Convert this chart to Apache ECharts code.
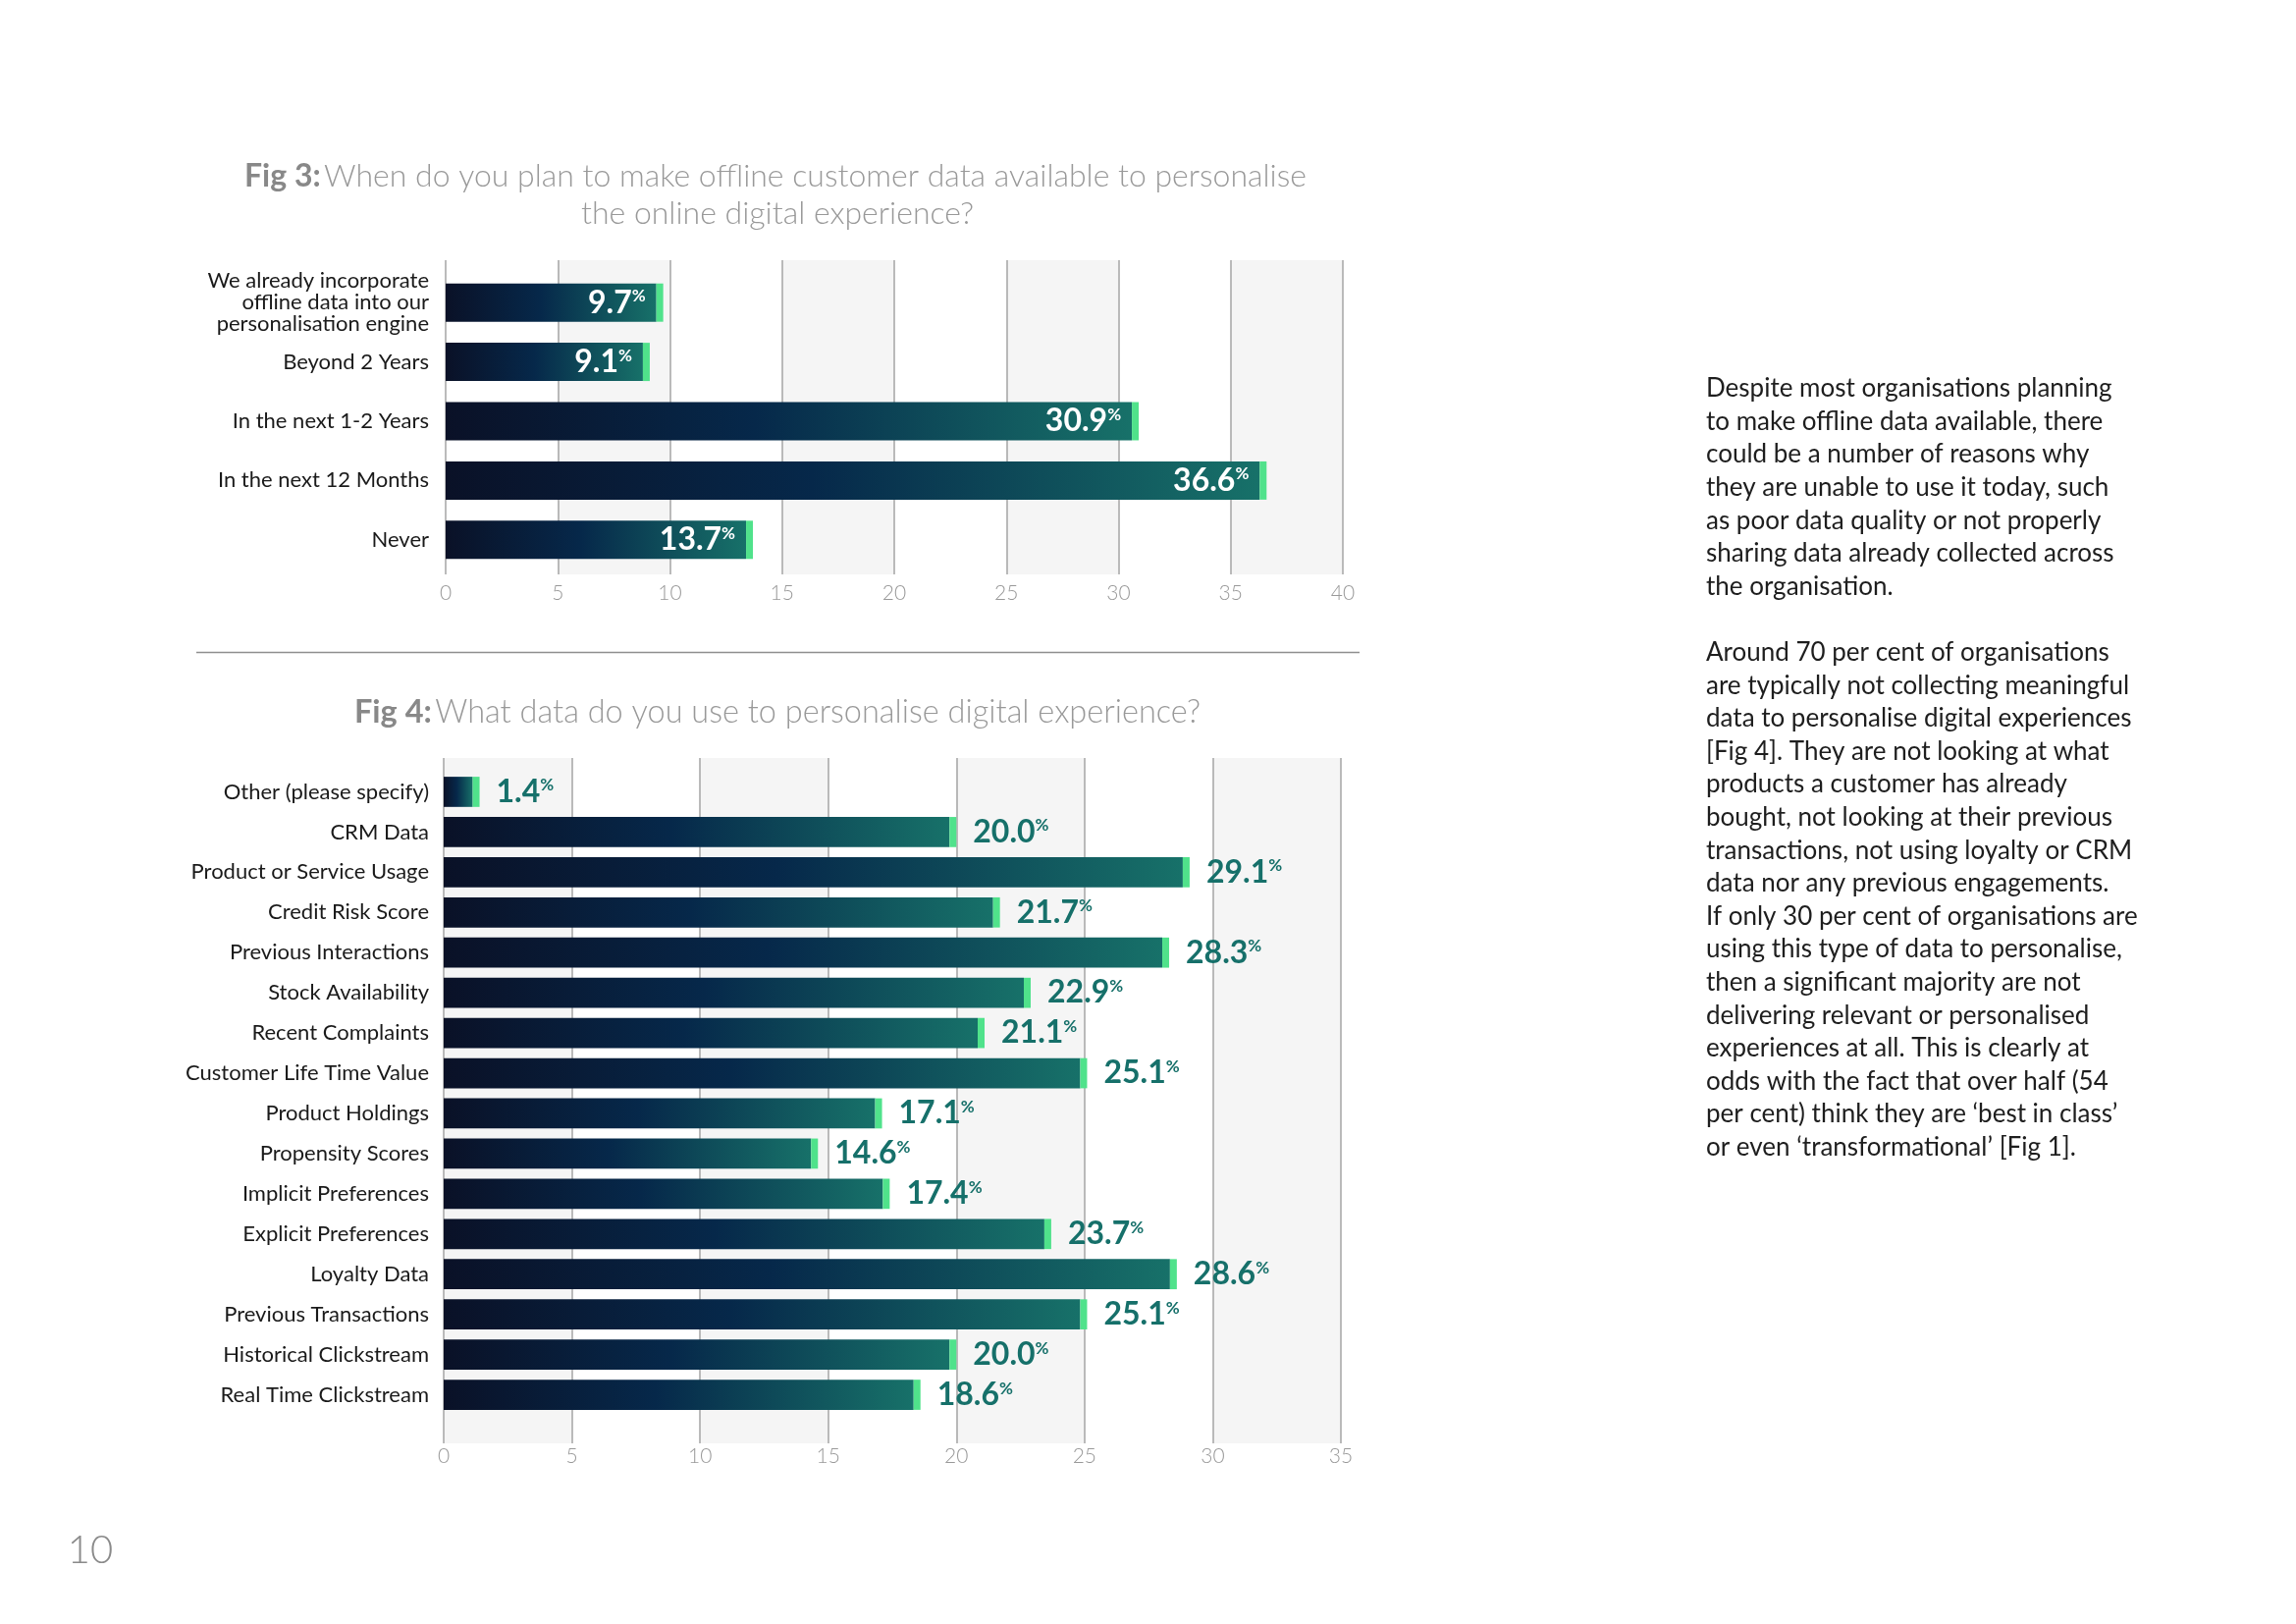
<!DOCTYPE html>
<html>
<head>
<meta charset="utf-8">
<script src="https://cdn.jsdelivr.net/npm/echarts@6/dist/echarts.min.js"></script>
<style>
html,body{margin:0;padding:0;background:#ffffff;}
#chart{width:2339px;height:1654px;}
</style>
</head>
<body>
<div id="chart"></div>
<script>
const fig3Categories = ['We already incorporate\noffline data into our\npersonalisation engine', 'Beyond 2 Years', 'In the next 1-2 Years', 'In the next 12 Months', 'Never'];
const fig3Values = [9.7, 9.1, 30.9, 36.6, 13.7];
const fig3AxisMax = 40;

const fig4Categories = ['Other (please specify)', 'CRM Data', 'Product or Service Usage', 'Credit Risk Score', 'Previous Interactions', 'Stock Availability', 'Recent Complaints', 'Customer Life Time Value', 'Product Holdings', 'Propensity Scores', 'Implicit Preferences', 'Explicit Preferences', 'Loyalty Data', 'Previous Transactions', 'Historical Clickstream', 'Real Time Clickstream'];
const fig4Values = [1.4, 20.0, 29.1, 21.7, 28.3, 22.9, 21.1, 25.1, 17.1, 14.6, 17.4, 23.7, 28.6, 25.1, 20.0, 18.6];
const fig4AxisMax = 35;
const axisStep = 5;

const fig3Title1 = 'When do you plan to make offline customer data available to personalise';
const fig3Title2 = 'the online digital experience?';
const fig4Title = 'What data do you use to personalise digital experience?';

const bodyText = [
  'Despite most organisations planning',
  'to make offline data available, there',
  'could be a number of reasons why',
  'they are unable to use it today, such',
  'as poor data quality or not properly',
  'sharing data already collected across',
  'the organisation.',
  '',
  'Around 70 per cent of organisations',
  'are typically not collecting meaningful',
  'data to personalise digital experiences',
  '[Fig 4]. They are not looking at what',
  'products a customer has already',
  'bought, not looking at their previous',
  'transactions, not using loyalty or CRM',
  'data nor any previous engagements.',
  'If only 30 per cent of organisations are',
  'using this type of data to personalise,',
  'then a significant majority are not',
  'delivering relevant or personalised',
  'experiences at all. This is clearly at',
  'odds with the fact that over half (54',
  'per cent) think they are \u2018best in class\u2019',
  'or even \u2018transformational\u2019 [Fig 1].'
];
const pageNumber = '10';

const FONT = 'Lato, "Noto Sans", sans-serif';
const CAP = 7;
const CAP_COLOR = '#50e28b';
const TEAL = '#16706a';

function barGradient() {
  return new echarts.graphic.LinearGradient(0, 0, 1, 0, [
    {offset: 0, color: '#0a1127'},
    {offset: 0.45, color: '#06284a'},
    {offset: 1, color: '#177169'}
  ]);
}

function makeRender(ratio, inside) {
  return function (params, api) {
    const v = api.value(0);
    const idx = api.value(1);
    const s = api.coord([0, idx]);
    const e = api.coord([v, idx]);
    const band = api.size([0, 1])[1];
    const h = band * ratio;
    const y0 = s[1] - h / 2;
    const w = e[0] - s[0];
    const txt = '{n|' + v.toFixed(1) + '}{p|%}';
    const col = inside ? '#ffffff' : TEAL;
    const children = [
      {type: 'rect', shape: {x: s[0], y: y0, width: Math.max(w - CAP, 0), height: h}, style: {fill: barGradient()}},
      {type: 'rect', shape: {x: e[0] - CAP, y: y0, width: CAP, height: h}, style: {fill: CAP_COLOR}}
    ];
    const rich = {
      n: {fontFamily: FONT, fontWeight: 'bold', fontSize: 32, fill: col, lineHeight: 30},
      p: {fontFamily: FONT, fontWeight: 'bold', fontSize: 17, fill: col, verticalAlign: 'top', lineHeight: 19}
    };
    children.push({
      type: 'text',
      style: {
        text: txt,
        rich: rich,
        fill: col,
        x: inside ? e[0] - CAP - 11 : e[0] + 17,
        y: s[1],
        align: inside ? 'right' : 'left',
        verticalAlign: 'middle'
      }
    });
    return {type: 'group', children: children};
  };
}

const W = 2339, H = 1654;
const g3 = {left: 454, right: W - 1368};
const g4 = {left: 452, right: W - 1366};

const splitLine = {show: true, lineStyle: {color: '#a5a5a5', width: 1.5}};
const axisLabelStyle = {color: '#999999', fontSize: 21, fontFamily: FONT, fontWeight: 300};

const option = {
  backgroundColor: '#ffffff',
  animation: false,
  grid: [
    {left: g3.left, right: g3.right, top: 265, bottom: H - 585},
    {left: g3.left, right: g3.right, top: 278, height: 302},
    {left: g4.left, right: g4.right, top: 772, bottom: H - 1470},
    {left: g4.left, right: g4.right, top: 786, height: 655}
  ],
  xAxis: [
    {gridIndex: 0, type: 'value', min: 0, max: fig3AxisMax, interval: axisStep,
      axisLine: {show: false}, axisTick: {show: false},
      axisLabel: Object.assign({margin: 9}, axisLabelStyle),
      splitLine: splitLine,
      splitArea: {show: true, areaStyle: {color: ['rgba(255,255,255,0)', '#f5f5f5']}}},
    {gridIndex: 1, type: 'value', min: 0, max: fig3AxisMax, show: false, splitLine: {show: false}},
    {gridIndex: 2, type: 'value', min: 0, max: fig4AxisMax, interval: axisStep,
      axisLine: {show: false}, axisTick: {show: false},
      axisLabel: Object.assign({margin: 3}, axisLabelStyle),
      splitLine: splitLine,
      splitArea: {show: true, areaStyle: {color: ['#f5f5f5', 'rgba(255,255,255,0)']}}},
    {gridIndex: 3, type: 'value', min: 0, max: fig4AxisMax, show: false, splitLine: {show: false}}
  ],
  yAxis: [
    {gridIndex: 0, type: 'value', show: false, splitLine: {show: false}},
    {gridIndex: 1, type: 'category', inverse: true, data: fig3Categories,
      axisLine: {show: false}, axisTick: {show: false},
      axisLabel: {color: '#1a1a1a', fontSize: 22, fontFamily: FONT, margin: 17, lineHeight: 22, align: 'right'}},
    {gridIndex: 2, type: 'value', show: false, splitLine: {show: false}},
    {gridIndex: 3, type: 'category', inverse: true, data: fig4Categories,
      axisLine: {show: false}, axisTick: {show: false},
      axisLabel: {color: '#1a1a1a', fontSize: 22, fontFamily: FONT, margin: 15, align: 'right'}}
  ],
  series: [
    {type: 'custom', xAxisIndex: 1, yAxisIndex: 1, renderItem: makeRender(0.645, true),
      encode: {x: 0, y: 1}, data: fig3Values.map((v, i) => [v, i])},
    {type: 'custom', xAxisIndex: 3, yAxisIndex: 3, renderItem: makeRender(0.75, false),
      encode: {x: 0, y: 1}, data: fig4Values.map((v, i) => [v, i])}
  ],
  graphic: [
    {type: 'text', x: 790, y: 180, style: {
      text: '{b|Fig 3:} {r|' + fig3Title1 + '}', align: 'center', verticalAlign: 'middle',
      rich: {b: {fontFamily: FONT, fontWeight: 'bold', fontSize: 32, fill: '#888888'},
             r: {fontFamily: FONT, fontWeight: 300, fontSize: 32, fill: '#999999'}}}},
    {type: 'text', x: 792, y: 218, style: {
      text: fig3Title2, align: 'center', verticalAlign: 'middle',
      fontFamily: FONT, fontWeight: 300, fontSize: 32, fill: '#999999'}},
    {type: 'line', shape: {x1: 200, y1: 664.5, x2: 1385, y2: 664.5}, style: {stroke: '#8f8f8f', lineWidth: 1.5}},
    {type: 'text', x: 792, y: 726, style: {
      text: '{b|Fig 4:} {r|' + fig4Title + '}', align: 'center', verticalAlign: 'middle',
      rich: {b: {fontFamily: FONT, fontWeight: 'bold', fontSize: 32.5, fill: '#888888'},
             r: {fontFamily: FONT, fontWeight: 300, fontSize: 32.5, fill: '#999999'}}}},
    {type: 'text', x: 1738, y: 379, style: {
      text: bodyText.join('\n'), fontFamily: FONT, fontSize: 26, lineHeight: 33.6,
      fill: '#1e1e1e', align: 'left', verticalAlign: 'top'}},
    {type: 'text', x: 92, y: 1579, style: {
      text: pageNumber, fontFamily: FONT, fontWeight: 300, fontSize: 40, fill: '#8a8a8a',
      align: 'center', verticalAlign: 'middle'}}
  ]
};

const chart = echarts.init(document.getElementById('chart'), null, {renderer: 'canvas'});
chart.setOption(option);
</script>
</body>
</html>
